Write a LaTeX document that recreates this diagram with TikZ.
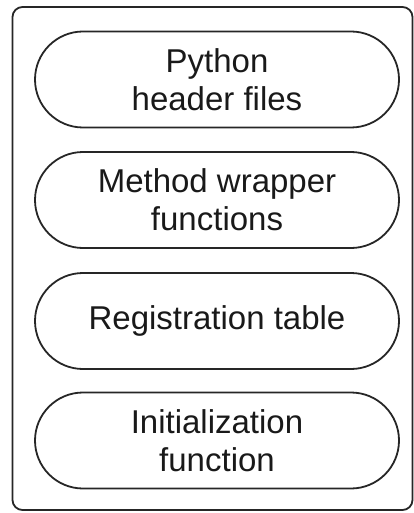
\documentclass[tikz,border=0pt]{standalone}
\usepackage{fontspec}
\setmainfont{Liberation Sans}
\usetikzlibrary{shapes.misc}
\begin{document}
\begin{tikzpicture}[x=1pt,y=-1pt,
  framebox/.style={draw=black!85, line width=1.8pt, rounded corners=10pt,
    minimum width=400pt, minimum height=503pt, inner sep=0pt},
  pill/.style={rounded rectangle, draw=black!85, line width=1.8pt,
    minimum width=364pt, minimum height=96pt, inner sep=0pt,
    align=center, text=black!90,
    font=\fontsize{33}{38}\selectfont}]
  \useasboundingbox (0,0) rectangle (414,513);
  \node[framebox] (frame) at (212.5,258.5) {};
  \node[pill] (headers) at (217,79.5)  {Python\\header files};
  \node[pill] (wrappers) at (217,200)  {Method wrapper\\functions};
  \node[pill] (table)    at (217,321)  {Registration table};
  \node[pill] (init)     at (217,440.5){Initialization\\function};
\end{tikzpicture}
\end{document}
